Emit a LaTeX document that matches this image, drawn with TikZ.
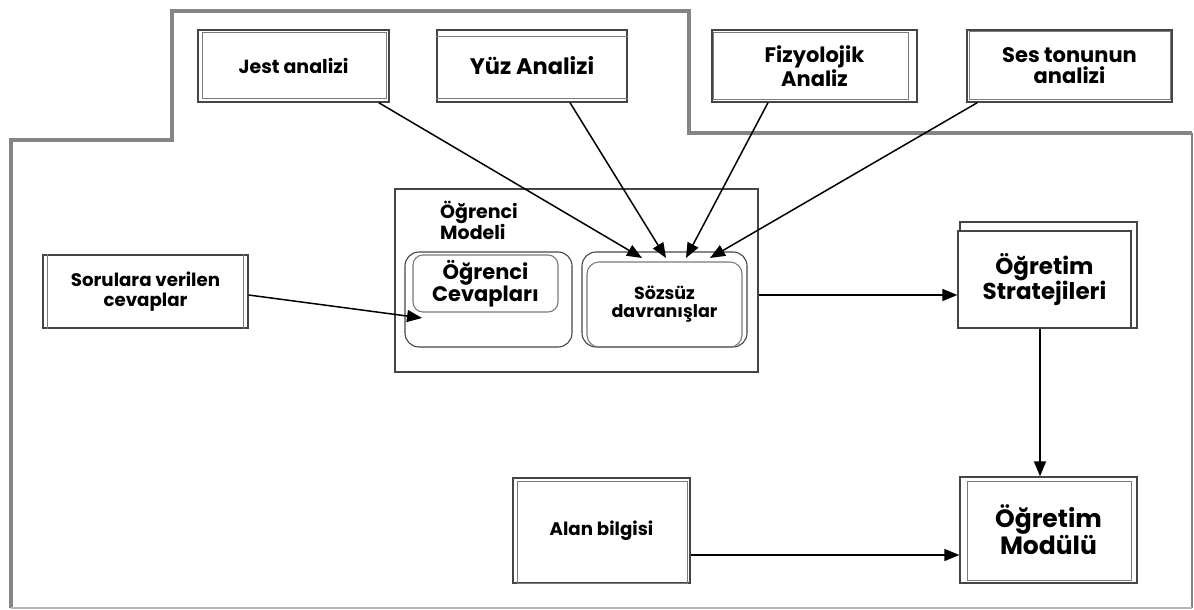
\documentclass[tikz,border=0pt]{standalone}
\usepackage{fontspec}
\setmainfont{Poppins}
\usetikzlibrary{arrows.meta}
\definecolor{frame}{HTML}{858585}
\definecolor{boxc}{HTML}{454545}
\definecolor{innerc}{HTML}{7A7A7A}
\tikzset{
  box/.style={draw=boxc, line width=1.3pt, fill=white, inner sep=0pt, align=center, font=\bfseries},
  inbox/.style={draw=innerc, line width=0.9pt},
  rbox/.style={draw=boxc, line width=1.1pt, rounded corners=14pt, inner sep=0pt, align=center, font=\bfseries},
  conn/.style={draw=black, line width=1.5pt, -{Triangle[length=15pt,width=12pt]}},
}
\begin{document}
\begin{tikzpicture}[x=1pt,y=-1pt]
\useasboundingbox (0,0) rectangle (1194,610);
% outer frame
\draw[frame, line width=4pt, line join=miter] (11,608) -- (11,140) -- (172,140) -- (172,11) -- (689,11) -- (689,133) -- (1192,133);
\draw[frame, line width=2pt] (1192,133) -- (1192,608);
\draw[frame!60, line width=1.2pt] (11,608) -- (1192,608);

% top boxes
\node[box, minimum width=191pt, minimum height=72pt, font=\bfseries\fontsize{19}{21}\selectfont] (jest) at (293.5,66) {Jest analizi};
\draw[inbox] ([shift={(5,3)}]jest.north west) rectangle ([shift={(-3,-4)}]jest.south east);
\node[box, minimum width=190pt, minimum height=72pt, font=\bfseries\fontsize{22.5}{24}\selectfont] (yuz) at (532,66) {Yüz Analizi};
\draw[inbox] ([shift={(0,7)}]yuz.north west) -- ([shift={(0,7)}]yuz.north east);
\draw[inbox] ([shift={(0,-4)}]yuz.south west) -- ([shift={(0,-4)}]yuz.south east);
\node[box, minimum width=205pt, minimum height=72pt, font=\bfseries\fontsize{21}{21}\selectfont] (fiz) at (814.5,66) {Fizyolojik\\Analiz};
\draw[inbox] ([shift={(2,3)}]fiz.north west) rectangle ([shift={(-9,-3)}]fiz.south east);
\node[box, minimum width=205pt, minimum height=72pt, font=\bfseries\fontsize{21}{21}\selectfont] (ses) at (1069.5,66) {Ses tonunun\\analizi};
\draw[inbox] ([shift={(3,2)}]ses.north west) rectangle ([shift={(-2,-3)}]ses.south east);

% left box
\node[box, minimum width=205pt, minimum height=73pt, font=\bfseries\fontsize{18.2}{20}\selectfont] (sor) at (145.5,291.5) {Sorulara verilen\\cevaplar};
\draw[inbox] ([shift={(5,0)}]sor.north west) -- ([shift={(5,0)}]sor.south west);
\draw[inbox] ([shift={(-5,0)}]sor.north east) -- ([shift={(-5,0)}]sor.south east);

% student model
\node[draw=boxc, line width=1.1pt, minimum width=363pt, minimum height=183pt, inner sep=0pt] (model) at (576.5,280.5) {};
\node[anchor=north west, align=left, inner sep=0pt, font=\bfseries\fontsize{19}{19}\selectfont] (mlabel) at (440,201) {Öğrenci\\Modeli};
\node[rbox, minimum width=167pt, minimum height=95pt] (lrr) at (488.5,299.5) {};
\node[rbox, draw=innerc, rounded corners=10pt, minimum width=145pt, minimum height=57pt, font=\bfseries\fontsize{21}{22}\selectfont] (cev) at (485.5,283.5) {Öğrenci\\Cevapları};
\node[rbox, minimum width=165pt, minimum height=95pt] (rrr) at (664.5,299.5) {};
\node[rbox, draw=innerc, rounded corners=12pt, minimum width=155pt, minimum height=85pt, font=\bfseries\fontsize{17.5}{18}\selectfont] (soz) at (664.5,304.5) {Sözsüz\\davranışlar};

% strategies
\draw[boxc, line width=1.1pt] (960,222) rectangle (1137,328);
\node[box, minimum width=173pt, minimum height=97pt, font=\bfseries\fontsize{23}{25}\selectfont] (strat) at (1044.5,279.5) {Öğretim\\Stratejileri};

% module
\node[box, minimum width=177pt, minimum height=106pt, font=\bfseries\fontsize{25}{26}\selectfont] (modul) at (1048.5,530) {Öğretim\\Modülü};
\draw[inbox] ([shift={(8,5)}]modul.north west) rectangle ([shift={(-6,-3)}]modul.south east);

% domain knowledge
\node[box, minimum width=177pt, minimum height=105pt, font=\bfseries\fontsize{18.2}{20}\selectfont] (alan) at (601.5,530.5) {Alan bilgisi};
\draw[inbox] ([shift={(5,4)}]alan.north west) rectangle ([shift={(-3,0)}]alan.south east);

% arrow targets
\coordinate (t1) at (642,258);
\coordinate (t2) at (666,258);
\coordinate (t3) at (686,258);
\coordinate (t4) at (710,258);
\coordinate (t5) at (422,318);

% connectors
\draw[conn] ([shift={(-11,0)}]jest.south east) -- (t1);
\draw[conn] ([shift={(38,0)}]yuz.south) -- (t2);
\draw[conn] ([shift={(-46.5,0)}]fiz.south) -- (t3);
\draw[conn] ([shift={(11,0)}]ses.south west) -- (t4);
\draw[conn] ([shift={(0,3.5)}]sor.east) -- (t5);
\draw[conn] ([shift={(0,14.5)}]model.east) -- ([shift={(0,14.5)}]model.east -| strat.west);
\draw[conn] ([shift={(-4.5,0)}]strat.south) -- ([shift={(-4.5,0)}]strat.south |- modul.north);
\draw[conn] ([shift={(0,24.5)}]alan.east) -- ([shift={(0,24.5)}]alan.east -| modul.west);
\end{tikzpicture}
\end{document}
